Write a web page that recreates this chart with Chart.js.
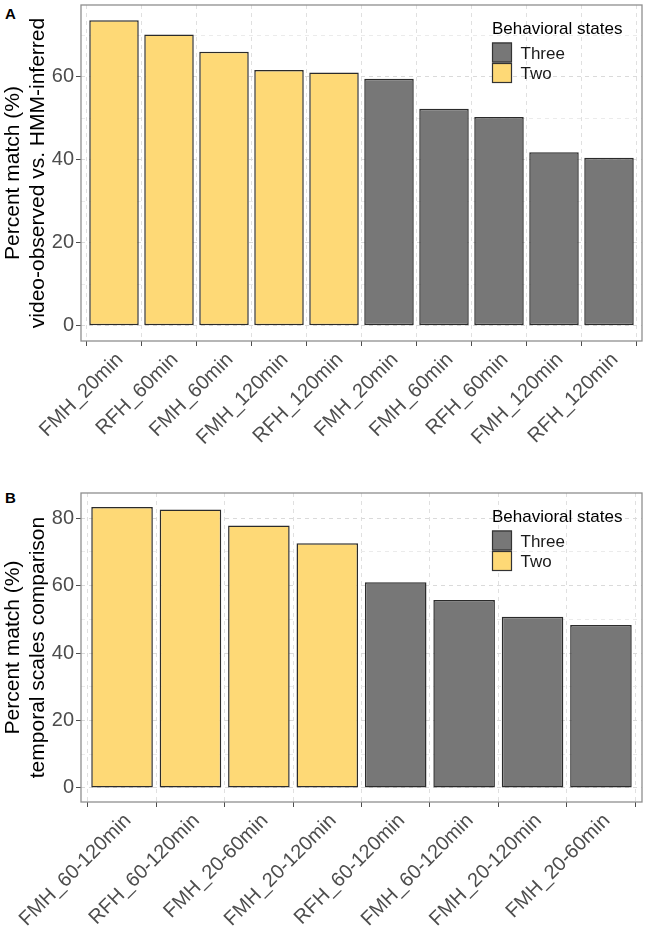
<!DOCTYPE html>
<html>
<head>
<meta charset="utf-8">
<script src="https://cdn.jsdelivr.net/npm/chart.js@4.4.1/dist/chart.umd.min.js"></script>
<style>
  body { margin: 0; background: #fff; width: 646px; height: 941px; position: relative; overflow: hidden;
         font-family: 'Liberation Sans', Arial, sans-serif; }
  canvas { position: absolute; left: 0; }
  #chartA { top: 0; }
  #chartB { top: 462px; }
  .tag { position: absolute; left: 5px; font-weight: bold; font-size: 15px; color: #000; line-height: 17px; }
</style>
</head>
<body>
<div class="tag" style="top:5px">A</div>
<div class="tag" style="top:489px">B</div>
<canvas id="chartA" width="646" height="462"></canvas>
<canvas id="chartB" width="646" height="479"></canvas>
<script>
// panel A: video-observed vs HMM-inferred
const catsA = ['FMH_20min', 'RFH_60min', 'FMH_60min', 'FMH_120min', 'RFH_120min',
               'FMH_20min', 'FMH_60min', 'RFH_60min', 'FMH_120min', 'RFH_120min'];
const statesA = ['Two', 'Two', 'Two', 'Two', 'Two', 'Three', 'Three', 'Three', 'Three', 'Three'];
const valsA = [73.6, 70.2, 66.0, 61.6, 61.0, 59.5, 52.3, 50.3, 41.8, 40.5];

// panel B: temporal scales comparison
const catsB = ['FMH_60-120min', 'RFH_60-120min', 'FMH_20-60min', 'FMH_20-120min',
               'RFH_60-120min', 'FMH_60-120min', 'FMH_20-120min', 'FMH_20-60min'];
const statesB = ['Two', 'Two', 'Two', 'Two', 'Three', 'Three', 'Three', 'Three'];
const valsB = [83.3, 82.6, 77.8, 72.6, 61.0, 55.7, 50.8, 48.3];

const titleA = ['Percent match (%)', 'video-observed vs. HMM-inferred'];
const titleB = ['Percent match (%)', 'temporal scales comparison'];

const legendTitle = 'Behavioral states';
const legendOrder = ['Three', 'Two'];
const stateColors = { Three: '#777777', Two: '#FED976' };

const FONT = "'Liberation Sans', Arial, sans-serif";
Chart.defaults.font.family = FONT;

// marco del panel (encima de las barras, como ggplot)
const panelFrame = {
  id: 'panelFrame',
  afterDatasetsDraw(chart) {
    const { ctx, chartArea: a } = chart;
    ctx.save();
    ctx.strokeStyle = '#8f8f8f';
    ctx.lineWidth = 1.3;
    ctx.strokeRect(a.left, a.top, a.right - a.left, a.bottom - a.top);
    ctx.restore();
  }
};

// leyenda dentro del panel, arriba a la derecha
const stateLegend = {
  id: 'stateLegend',
  afterDraw(chart) {
    const { ctx, chartArea } = chart;
    const x = chartArea.right - 150;
    const y = chartArea.top;
    ctx.save();
    ctx.font = '17px ' + FONT;
    ctx.textAlign = 'left';
    ctx.textBaseline = 'alphabetic';
    ctx.fillStyle = '#000';
    ctx.fillText(legendTitle, x, y + 29);
    legendOrder.forEach((s, i) => {
      const ky = y + 37.5 + i * 20.5;
      ctx.fillStyle = stateColors[s];
      ctx.fillRect(x, ky, 20, 20);
      ctx.strokeStyle = '#333';
      ctx.lineWidth = 1.2;
      ctx.strokeRect(x + 0.5, ky + 0.5, 19, 19);
      ctx.fillStyle = '#1a1a1a';
      ctx.fillText(s, x + 28.5, ky + 16);
    });
    ctx.restore();
  }
};

function buildChart(id, cats, states, vals, yTitle, padTop, axisH) {
  const top = Math.max(...vals);
  const isMajor = v => Math.round(v) % 20 === 0;

  return new Chart(document.getElementById(id), {
    type: 'bar',
    data: {
      datasets: [{
        label: 'Percent match',
        data: vals.map((v, i) => ({ x: i, y: v })),
        backgroundColor: states.map(s => stateColors[s]),
        borderColor: '#2b2b2b',
        borderWidth: 1.5,
        borderSkipped: false,
        barPercentage: 0.9,
        categoryPercentage: 1.0
      }]
    },
    options: {
      responsive: false,
      animation: false,
      devicePixelRatio: 1,
      layout: { padding: { top: padTop, right: 4, left: 0, bottom: 0 } },
      plugins: {
        legend: { display: false },
        tooltip: { enabled: false }
      },
      scales: {
        x: {
          type: 'linear',
          min: -0.6,
          max: cats.length - 0.4,
          offset: false,
          grid: { color: '#e0e0e0', lineWidth: 1, tickLength: 5, tickColor: '#4d4d4d', tickWidth: 1 },
          border: { display: false, dash: [4, 4] },
          ticks: {
            stepSize: 1,
            includeBounds: false,
            autoSkip: false,
            maxRotation: 45,
            minRotation: 45,
            padding: 2,
            labelOffset: 6,
            color: '#4d4d4d',
            font: { size: 20 },
            callback: v => cats[v]
          },
          afterFit: s => { s.height = axisH; s.paddingLeft = 0; s.paddingRight = 0; }
        },
        y: {
          min: -0.05 * top,
          max: 1.05 * top,
          grid: {
            color: c => isMajor(c.tick.value) ? '#dadada' : '#ebebeb',
            lineWidth: 1,
            tickLength: 5,
            tickColor: c => isMajor(c.tick.value) ? '#4d4d4d' : 'rgba(0,0,0,0)'
          },
          border: { display: false, dash: [4, 4] },
          ticks: {
            stepSize: 10,
            includeBounds: false,
            padding: 2,
            color: '#4d4d4d',
            font: { size: 20 },
            callback: v => isMajor(v) ? v : ''
          },
          title: {
            display: true,
            text: yTitle,
            color: '#000',
            font: { size: 21, lineHeight: 1.21 },
            padding: { top: 0, bottom: 0 }
          },
          afterFit: s => { s.width = 81; s.paddingTop = 0; s.paddingBottom = 0; }
        }
      }
    },
    plugins: [panelFrame, stateLegend]
  });
}

buildChart('chartA', catsA, statesA, valsA, titleA, 5, 121);
buildChart('chartB', catsB, statesB, valsB, titleB, 31, 139);
</script>
</body>
</html>
